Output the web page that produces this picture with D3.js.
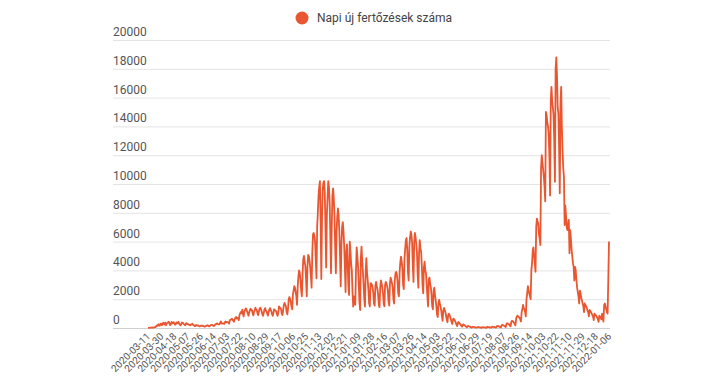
<!DOCTYPE html>
<html>
<head>
<meta charset="utf-8">
<script src="https://cdn.jsdelivr.net/npm/d3@7"></script>
<style>
  body { margin: 0; background: #fff; }
  svg { display: block; font-family: Roboto, "Noto Sans", sans-serif; }
</style>
</head>
<body>
<svg id="chart" width="725" height="385"></svg>
<script>
// napi uj fertozesek, 2020-03-11 .. 2022-01-06 (egy sor = egy het)
var cases = [
  4, 13, 8, 20, 22, 24, 37,
  29, 31, 44, 66, 66, 143, 186,
  144, 263, 186, 160, 293, 308, 192,
  291, 360, 280, 246, 370, 190, 330,
  350, 400, 430, 300, 200, 280, 420,
  330, 325, 410, 320, 230, 270, 390,
  330, 350, 430, 280, 250, 180, 260,
  380, 340, 330, 250, 210, 190, 330,
  330, 270, 260, 230, 200, 190, 250,
  240, 290, 220, 190, 150, 130, 200,
  200, 160, 190, 150, 120, 110, 150,
  170, 150, 160, 140, 110, 90, 130,
  150, 170, 190, 160, 110, 120, 180,
  200, 210, 220, 160, 140, 180, 240,
  270, 300, 320, 260, 250, 250, 350,
  460, 320, 300, 330, 300, 290, 420,
  450, 390, 420, 400, 350, 300, 550,
  560, 600, 650, 590, 500, 430, 600,
  690, 770, 650, 700, 660, 550, 900,
  1030, 1110, 1020, 1280, 970, 800, 1150,
  1230, 1360, 1300, 1150, 1000, 850, 1100,
  1250, 1340, 1220, 1240, 1000, 880, 1120,
  1250, 1410, 1280, 1220, 1000, 900, 1150,
  1350, 1410, 1300, 1150, 950, 850, 1050,
  1300, 1380, 1200, 1160, 1000, 860, 1100,
  1280, 1380, 1250, 1150, 950, 850, 1050,
  1300, 1250, 1200, 1150, 950, 850, 1100,
  1500, 1380, 1400, 1300, 1000, 900, 1250,
  1600, 1750, 1600, 1500, 1100, 950, 1350,
  2000, 2150, 2000, 1800, 1500, 1300, 2300,
  2600, 2900, 2800, 2500, 2200, 1600, 2900,
  3600, 4000, 3800, 3300, 2600, 2200, 3800,
  4800, 5000, 4600, 4300, 3400, 2200, 4200,
  5070, 5000, 4700, 4200, 3600, 2800, 5200,
  6500, 6600, 6400, 6000, 4800, 3450, 7000,
  8000, 9200, 9800, 10200, 7500, 3400, 7600,
  9600, 10100, 10200, 9400, 7000, 4200, 7800,
  9000, 10200, 9800, 8800, 6400, 3800, 6800,
  9200, 9700, 9000, 7800, 5600, 3800, 6700,
  7700, 8300, 7800, 6700, 5000, 2900, 5800,
  7000, 7350, 6700, 5700, 4200, 2500, 5300,
  5800, 4600, 3000, 2300, 6000, 5400, 4500,
  4000, 2500, 1480, 2200, 1900, 1600, 3900,
  5600, 5000, 4300, 3100, 1800, 1250, 4800,
  5650, 4700, 3900, 3000, 2000, 1480, 3900,
  4850, 3800, 3300, 2600, 1700, 1500, 3100,
  3100, 3000, 2800, 2400, 1700, 1550, 2900,
  3200, 2900, 2700, 2300, 1600, 1450, 2800,
  3300, 3100, 2800, 2400, 1700, 1500, 3000,
  3200, 3100, 2900, 2600, 1800, 1550, 3100,
  3500, 3300, 3100, 2800, 2000, 1700, 3300,
  3800, 3900, 3700, 3200, 2400, 2200, 3900,
  4600, 4950, 4600, 4100, 3000, 2700, 4800,
  5500, 6100, 6250, 5400, 3900, 3300, 5600,
  6300, 6700, 6500, 5900, 4300, 3200, 6000,
  6600, 6300, 5800, 5200, 3700, 2800, 5200,
  6100, 5500, 5300, 4300, 3000, 2400, 4200,
  4600, 4000, 3800, 3000, 2200, 1500, 3400,
  3500, 3100, 2800, 2300, 1500, 1300, 2600,
  2800, 2300, 1900, 1500, 900, 760, 1700,
  1950, 1700, 1500, 1200, 800, 500, 1200,
  1400, 1250, 1100, 850, 550, 400, 900,
  1000, 900, 750, 600, 400, 280, 600,
  650, 550, 480, 370, 230, 140, 350,
  420, 340, 290, 230, 140, 90, 220,
  250, 200, 170, 130, 80, 50, 130,
  140, 110, 95, 75, 50, 30, 85,
  85, 70, 60, 45, 30, 20, 60,
  65, 55, 45, 40, 25, 15, 50,
  60, 50, 45, 40, 30, 15, 60,
  75, 65, 55, 45, 35, 20, 85,
  95, 85, 75, 60, 40, 30, 115,
  140, 125, 110, 90, 60, 45, 170,
  210, 195, 175, 140, 100, 70, 260,
  330, 310, 280, 230, 160, 110, 400,
  500, 470, 430, 380, 260, 180, 620,
  800, 850, 800, 750, 700, 600, 450,
  1100, 1300, 1600, 1400, 1300, 1100, 800,
  2000, 2400, 2900, 2600, 2400, 2200, 2000,
  4000, 4500, 5400, 5600, 5000, 4500, 3900,
  7000, 7600, 7400, 7200, 6500, 6200, 5750,
  11100, 12000, 11500, 11000, 10500, 9800, 8800,
  15000, 14800, 14300, 14000, 13500, 12000, 9200,
  15800, 16750, 15800, 15300, 14800, 13000, 10150,
  18000, 18800, 17500, 15300, 14900, 12500, 9350,
  15500, 16750, 14000, 12400, 11100, 10500, 7150,
  8500, 7800, 7000, 6800, 7200, 7500, 5200,
  6800, 6250, 5500, 5000, 4500, 4250, 3300,
  4250, 4000, 3300, 2800, 2500, 2200, 1700,
  2600, 2400, 2100, 1900, 1700, 1500, 1100,
  1700, 1600, 1500, 1400, 1200, 1100, 800,
  1250, 1200, 1100, 1000, 900, 800, 550,
  1000, 950, 900, 800, 700, 600, 420,
  850, 800, 700, 600, 1000, 700, 450,
  1600, 1700, 1500, 1300, 1100, 1000, 3400,
  6000
]

var tickLabels = [
  "2020-03-11", "2020-03-30", "2020-04-18", "2020-05-07", "2020-05-26", "2020-06-14",
  "2020-07-03", "2020-07-22", "2020-08-10", "2020-08-29", "2020-09-17", "2020-10-06",
  "2020-10-25", "2020-11-13", "2020-12-02", "2020-12-21", "2021-01-09", "2021-01-28",
  "2021-02-16", "2021-03-07", "2021-03-26", "2021-04-14", "2021-05-03", "2021-05-22",
  "2021-06-10", "2021-06-29", "2021-07-19", "2021-08-07", "2021-08-26", "2021-09-14",
  "2021-10-03", "2021-10-22", "2021-11-10", "2021-11-29", "2021-12-18", "2022-01-06"
]
var tickStep = 19
var yTicks = [0, 2000, 4000, 6000, 8000, 10000, 12000, 14000, 16000, 18000, 20000]
var seriesName = "Napi új fertőzések száma"

var svg = d3.select("#chart")
var color = "#ea5630"

var x = d3.scaleLinear().domain([0, cases.length - 1]).range([148, 609])
var y = d3.scaleLinear().domain([0, 20000]).range([328, 40])

// vizszintes racsvonalak + feliratok
var grid = svg.append("g")
grid.selectAll("line")
    .data(yTicks)
    .enter()
    .append("line")
    .attr("x1", 113)
    .attr("x2", 610)
    .attr("y1", function(d) { return y(d) + 0.5 })
    .attr("y2", function(d) { return y(d) + 0.5 })
    .attr("stroke", function(d) { return d == 0 ? "#cfcfcf" : "#e4e4e4" })
    .attr("stroke-width", 1)

grid.selectAll("text")
    .data(yTicks)
    .enter()
    .append("text")
    .attr("x", 113)
    .attr("y", function(d) { return y(d) - 4 })
    .attr("font-size", "12px")
    .attr("fill", "#555")
    .text(function(d) { return d })

// x feliratok, 45 fokban
svg.append("g")
    .selectAll("text")
    .data(tickLabels)
    .enter()
    .append("text")
    .attr("transform", function(d, i) {
        return "translate(" + (x(i * tickStep) + 3) + ",337) rotate(-45)"
    })
    .attr("text-anchor", "end")
    .attr("font-size", "10px")
    .attr("fill", "#555")
    .text(function(d) { return d })

var line = d3.line()
    .x(function(d, i) { return x(i) })
    .y(function(d) { return y(d) })

svg.append("path")
    .attr("d", line(cases))
    .attr("fill", "none")
    .attr("stroke", color)
    .attr("stroke-width", 1.8)
    .attr("stroke-linejoin", "round")

// jelmagyarazat
svg.append("circle")
    .attr("cx", 302)
    .attr("cy", 18)
    .attr("r", 6.5)
    .attr("fill", color)

svg.append("text")
    .attr("x", 317)
    .attr("y", 22)
    .attr("font-size", "12px")
    .attr("fill", "#444")
    .text(seriesName)
</script>
</body>
</html>
